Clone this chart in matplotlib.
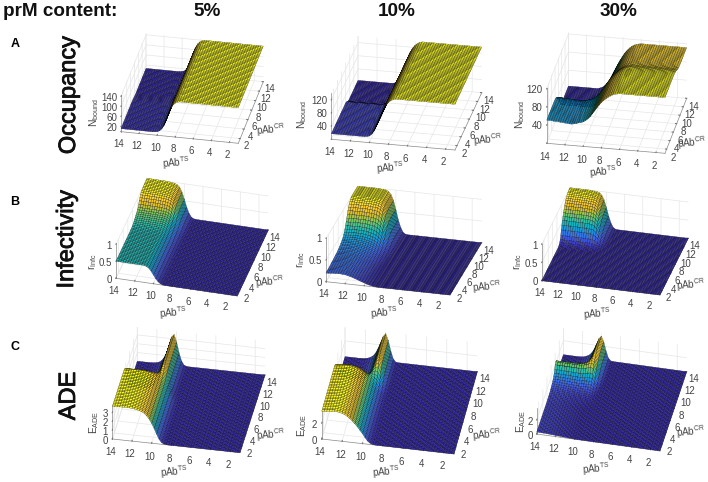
import numpy as np
import matplotlib
matplotlib.use("Agg")
import matplotlib.pyplot as plt
import matplotlib.patheffects as pe
from matplotlib.colors import LinearSegmentedColormap
from mpl_toolkits.mplot3d import proj3d

plt.rcParams['font.family'] = ['Liberation Sans', 'DejaVu Sans']
plt.rcParams['mathtext.fontset'] = 'custom'
plt.rcParams['mathtext.rm'] = 'Liberation Sans'
plt.rcParams['grid.color'] = '#e6e6e6'
plt.rcParams['grid.linewidth'] = 0.5

W, H = 708, 482
pab = np.arange(1, 14.01, 0.25)

parula = LinearSegmentedColormap.from_list('parula', [
    (0.1900, 0.1400, 0.6500), (0.2503, 0.2782, 0.8221), (0.2240, 0.4158, 0.9388),
    (0.1240, 0.5602, 0.8818), (0.0297, 0.6882, 0.7963), (0.1938, 0.7558, 0.6251),
    (0.5044, 0.7893, 0.3480), (0.8634, 0.7406, 0.1596), (0.9892, 0.8036, 0.1885),
    (0.9769, 0.9839, 0.0805)])

# profiles along pAb TS (1..14, step 0.25), and blend weights along pAb CR
a1_low = [141]*27 + [139, 134, 125, 110, 88, 62, 40, 26, 18, 14, 13] + [12]*15
a1_high = [141]*27 + [139, 134, 125, 110, 88, 60, 36, 20, 12, 9, 8] + [7]*15
a1_w = [0]*24 + [.05, .15, .3, .5, .7, .85, .95] + [1]*22

a2_low = [139]*26 + [137, 133, 127, 118, 105, 90, 72, 53, 37, 26, 20, 18] + [17]*15
a2_high = [139]*26 + [137, 133, 127, 118, 105, 88, 68, 46, 27, 14, 8, 6] + [5]*15
a2_w = [0]*28 + [.03, .1, .25, .5, .75, .9, .97] + [1]*18

a3_low = [123]*21 + [122, 121, 119, 116, 113, 109, 105, 100, 94, 87, 80, 73, 66, 61, 57, 54, 52, 51] \
    + [49, 48, 47, 47, 48, 48, 49, 49, 50, 50, 50, 51, 51, 51]
a3_high = [112]*21 + [111, 110, 108, 105, 101, 96, 90, 82, 74, 65, 55, 45, 35, 26, 19, 13, 9, 7] + [5]*14
a3_w = [0]*19 + [.01, .02, .03, .05, .08, .12, .17, .24, .33, .44, .56, .68, .78, .86, .92, .96, .98] + [1]*17

b1_low = [0]*32 + [.005, .03, .08, .16, .26, .36, .44, .48, .5] + [.5]*12
b1_high = [0]*32 + [.01, .05, .16, .33, .55, .75, .88, .94, .97] + [.98, .99, .99] + [1]*9
b1_w = [0]*25 + [.01, .01, .02, .04, .06, .09, .13, .17, .21, .25, .29, .34, .41, .52, .65, .76,
                 .85, .91, .94, .96, .97, .98, .99, .99] + [1]*4

b2_low = [0]*31 + [.002, .008, .018, .03, .045, .065, .085, .105, .125, .145, .165, .18, .195, .205,
                   .21, .215, .215, .21, .21, .205, .2, .2]
b2_high = [0]*32 + [.01, .05, .16, .33, .56, .76, .89, .95, .98, .99, .99] + [1]*10
b2_w = [0, .004, .008, .012, .016, .02, .024, .028, .032, .036, .04, .044, .048, .052, .056, .06,
        .065, .07, .075, .085, .095, .105, .115, .13, .145, .16, .18, .2, .225,
        .26, .31, .37, .44, .52, .6, .68, .76, .83, .89, .93, .96, .98, .99] + [1]*10

b3_low = [0]*53
b3_high = [0]*32 + [.01, .05, .17, .35, .58, .78, .9, .96, .98, .99, .99] + [1]*10
b3_w = [0]*31 + [.01, .03, .06, .11, .2, .32, .42, .52, .6, .67, .74, .8, .85, .89, .92, .95, .97,
                 .985, .99, 1, 1, 1]

c1_low = [0]*31 + [.05, .2, .55, 1.1, 1.7, 2.25, 2.7, 3.05, 3.3, 3.45, 3.55, 3.62, 3.68, 3.72,
                   3.74, 3.75, 3.75, 3.75, 3.74, 3.73, 3.72, 3.7]
c1_high = [0]*32 + [.03, .15, .6, 1.5, 2.7, 3.5, 3.2, 2.3, 1.4, .8, .4, .2, .1, .05, .03] + [.01]*6
c1_w = [0]*26 + [.03, .08, .18, .32, .48, .64, .78, .88, .94, .97, .99] + [1]*16

c2_low = [0]*32 + [.03, .15, .4, .8, 1.25, 1.65, 2.05, 2.4, 2.7, 3, 3.22, 3.4, 3.52, 3.6, 3.65,
                   3.65, 3.63, 3.6, 3.57, 3.53, 3.5]
c2_high = [0]*32 + [.05, .4, 1.4, 2.7, 3.5, 3.1, 2.3, 1.5, .9, .5, .3, .15, .08, .04, .02] + [.01]*6
c2_w = [0]*30 + [.03, .08, .18, .32, .48, .64, .78, .88, .94, .97, .99] + [1]*12

c3_low = [.01]*36 + [.02, .03, .05, .07, .09, .11, .13, .15, .17, .19, .21, .23, .25, .26, .27, .28, .28]
c3_mid = [0]*32 + [.03, .25, .9, 1.9, 2.8, 3, 2.85, 2.7, 2.6, 2.55, 2.5, 2.5, 2.5] + [2.5]*8
c3_high = [0]*32 + [.05, .4, 1.4, 2.7, 3.4, 3, 2.2, 1.4, .85, .5, .3, .15, .08, .04, .02] + [.01]*6
c3_w1 = [0]*20 + [.005, .01, .015, .02, .03, .04, .05, .07, .09, .12, .16, .21, .27, .35, .45, .6, .8,
                  .92, .97, .99] + [1]*13
c3_w2 = [0]*37 + [.03, .1, .22, .38, .55, .72, .85, .93, .97, .99] + [1]*6

cr_ticks = ts_ticks = [2, 4, 6, 8, 10, 12, 14]

# low, weight, high ... , z top, z ticks, z label
surfaces = [
    ([a1_low, a1_w, a1_high], 145, [20, 60, 100, 140], r'N$_{\mathrm{bound}}$'),
    ([a2_low, a2_w, a2_high], 140, [40, 80, 120], r'N$_{\mathrm{bound}}$'),
    ([a3_low, a3_w, a3_high], 123, [40, 80, 120], r'N$_{\mathrm{bound}}$'),
    ([b1_low, b1_w, b1_high], 1, [0, 0.5, 1], r'r$_{\mathrm{Infc}}$'),
    ([b2_low, b2_w, b2_high], 1, [0, 0.5, 1], r'r$_{\mathrm{Infc}}$'),
    ([b3_low, b3_w, b3_high], 1, [0, 0.5, 1], r'r$_{\mathrm{Infc}}$'),
    ([c1_low, c1_w, c1_high], 3.9, [0, 1, 2, 3], r'E$_{\mathrm{ADE}}$'),
    ([c2_low, c2_w, c2_high], 3.7, [0, 2], r'E$_{\mathrm{ADE}}$'),
    ([c3_low, c3_w1, c3_mid, c3_w2, c3_high], 3.76, [0, 2], r'E$_{\mathrm{ADE}}$'),
]

# pixel layout: front-left, front-right, back-right floor corners, box height,
# then centres of the z, TS and CR labels
layout = [
    ((121, 131.7), (238.3, 143.3), (263.3, 81.7), 36.6, (94, 113), (176, 163), (271, 130)),
    ((331.3, 139.3), (455, 150), (481.7, 92.7), 46, (302, 115), (390, 168), (488, 140)),
    ((546.7, 143.3), (665, 153.3), (686.7, 98.3), 55.7, (520, 115), (603, 172), (692, 143)),
    ((116, 278.3), (237.3, 296), (268.3, 230), 34, (93, 262), (173, 313), (270, 282)),
    ((326, 281.7), (450, 295), (481.7, 242.7), 43.3, (301, 260), (384, 313), (487, 287)),
    ((541.7, 280.7), (660, 295), (688.3, 238.3), 36.3, (518, 262), (597, 314), (691, 285)),
    ((112.3, 439), (240, 452.7), (265, 375), 34.3, (94, 422), (174, 472), (271, 435)),
    ((321.7, 439), (454, 454), (477.3, 371.7), 29.3, (302, 425), (386, 472), (487, 435)),
    ((536.7, 434), (660, 451), (686.7, 371.7), 26.3, (521, 421), (596, 469), (691, 432)),
]


def blend(parts):
    z = np.tile(np.array(parts[0], dtype=float), (len(pab), 1))
    for w, prof in zip(parts[1::2], parts[2::2]):
        w = np.array(w)[:, None]
        z = z * (1 - w) + np.array(prof) * w
    return z


def corner_px(ax, x, y, z):
    px, py, _ = proj3d.proj_transform(x, y, z, ax.get_proj())
    return ax.transData.transform((px, py))


def fit_box(ax, fl, fr, br, height):
    dx1, dy1 = fr[0] - fl[0], fr[1] - fl[1]
    dx2, dy2 = br[0] - fr[0], fr[1] - br[1]
    sin_e = np.sqrt(dy1 * dy2 / (dx1 * dx2))
    tan_p = dy1 / dx1 / sin_e
    e, p = np.arcsin(sin_e), np.arctan(tan_p)
    aspect = (dx1 / np.cos(p), dx2 / np.sin(p), height / np.cos(e))
    ax.view_init(elev=np.degrees(e), azim=-90 + np.degrees(p))
    ax.set_box_aspect(aspect, zoom=1)
    ax.apply_aspect()
    a = corner_px(ax, 14, 1, 0)
    b = corner_px(ax, 1, 1, 0)
    ax.set_box_aspect(aspect, zoom=dx1 / (b[0] - a[0]))
    a = corner_px(ax, 14, 1, 0)
    box = ax.get_position()
    ax.set_position([box.x0 + (fl[0] - a[0]) / W, box.y0 + ((H - fl[1]) - a[1]) / H,
                     box.width, box.height])
    ax.apply_aspect()


fig = plt.figure(figsize=(W / 100, H / 100), dpi=100)
grey = '#444444'
for (parts, ztop, zticks, zlabel), (fl, fr, br, hgt, zpos, tspos, crpos) in zip(surfaces, layout):
    ax = fig.add_axes([0, 0, 340 / W, 340 / H], projection='3d', proj_type='ortho')
    ax.patch.set_alpha(0)
    ax.set_xlim(14, 1, view_margin=0)
    ax.set_ylim(1, 14, view_margin=0)
    ax.set_zlim(0, ztop, view_margin=0)
    fit_box(ax, fl, fr, br, hgt)

    z = blend(parts)
    X, Y = np.meshgrid(pab, pab)
    ax.plot_surface(X, Y, z, cmap=parula, vmin=z.min(), vmax=z.max(), rstride=1, cstride=1,
                    edgecolor='k', linewidth=0.17, shade=False, antialiased=True)

    ax.set_xticks(ts_ticks)
    ax.set_yticks(cr_ticks)
    ax.set_zticks(zticks)
    ax.set_zticklabels([str(t) for t in zticks])
    ax.zaxis.set_ticks_position('lower')
    ax.tick_params(labelsize=7, labelcolor=grey, color='#777777', width=0.4, pad=1.5)
    ax.tick_params(axis='y', pad=-1)
    ax.tick_params(axis='z', pad=-4.5)
    for t in ax.get_zticklabels():
        t.set_ha('right')
        t.set_va('center')
    for axis in (ax.xaxis, ax.yaxis, ax.zaxis):
        axis.set_pane_color((1, 1, 1, 0))
        axis.pane.set_edgecolor('#e6e6e6')
        axis.line.set_color('#888888')
        axis.line.set_linewidth(0.5)
        axis._axinfo['tick']['inward_factor'] = 0.0
        axis._axinfo['tick']['outward_factor'] = 0.12

    fig.text(zpos[0] / W, 1 - zpos[1] / H, zlabel, fontsize=7.4, color=grey, rotation=90,
             ha='center', va='center')
    fig.text(tspos[0] / W, 1 - tspos[1] / H, r'pAb$^{\mathrm{TS}}$', fontsize=7, color=grey,
             rotation=5, ha='center', va='center')
    fig.text(crpos[0] / W, 1 - crpos[1] / H, r'pAb$^{\mathrm{CR}}$', fontsize=7, color=grey,
             rotation=5, ha='center', va='center')

fig.text(3 / W, 1 - 11 / H, 'prM content:', fontsize=13.6, fontweight='bold', va='center', color='#111111')
for label, x in [('5%', 207), ('10%', 397), ('30%', 618)]:
    fig.text(x / W, 1 - 11 / H, label, fontsize=13.6, fontweight='bold', ha='center', va='center',
             color='#111111')
for label, y in [('A', 44), ('B', 202), ('C', 347)]:
    fig.text(15 / W, 1 - y / H, label, fontsize=9, fontweight='bold', ha='center', va='center')
for label, x, y in [('Occupancy', 69, 95), ('Infectivity', 67, 239), ('ADE', 69, 396)]:
    fig.text(x / W, 1 - y / H, label, fontsize=17, rotation=90, ha='center', va='center', color='#111111',
             path_effects=[pe.withStroke(linewidth=0.6, foreground='#111111')])

fig.savefig('out.png', dpi=100)
